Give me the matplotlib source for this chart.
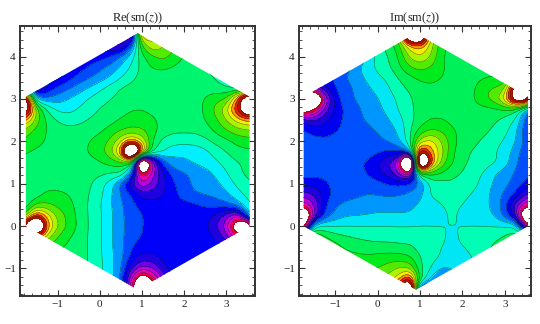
import matplotlib
matplotlib.use('Agg')
import matplotlib.pyplot as plt
import numpy as np
from matplotlib.patches import Polygon

plt.rcParams['font.family'] = 'Liberation Serif'
plt.rcParams['mathtext.fontset'] = 'stix'

x_grid = [-2, -1.75, -1.5, -1.25, -1, -.75, -.5, -.25, 0, .25, .5, .75, 1, 1.25, 1.5, 1.75, 2, 2.25, 2.5, 2.75, 3, 3.25, 3.5, 3.75]
y_grid = [4.75, 4.5, 4.25, 4, 3.75, 3.5, 3.25, 3, 2.75, 2.5, 2.25, 2, 1.75, 1.5, 1.25, 1, .75, .5, .25, 0, -.25, -.5, -.75, -1, -1.25, -1.5, -1.75]

# band number at each grid point, one row per y
re_bands = [
    [-6, -6, -6, -6, -6, -6, -6, -6, -6, -6, -7, -9, 9, 6, 4, 2, 1, 0, -1, -1, -1, -1, -1, -1],
    [-6, -6, -6, -6, -6, -6, -6, -6, -6, -6, -7, -9, 5, 4, 3, 2, 1, 0, -1, -1, -1, -1, -1, -1],
    [-6, -6, -6, -6, -6, -6, -6, -6, -6, -6.5, -7, -4, 1.5, 3.5, 2.6, 1.6, .8, 0, -1, -1, -1, -1, -1, -1],
    [-6, -6, -6, -6, -6, -6, -6, -5.2, -5, -4.5, -3.3, -2, .2, 1.3, 1.9, 1.2, .4, -.2, -1, -1, -1, -1, -1, -1],
    [-6, -6, -6, -6, -6, -5.5, -5, -4.4, -3.8, -3.2, -2.4, -1.3, -.2, .6, .7, .4, .1, 0, -.5, -1, -1.5, -2, -2, -2],
    [-6, -6, -6, -6, -6, -5, -4.2, -3.6, -3.1, -2.4, -1.5, -.8, -.1, 0, 0, 0, 0, 0, -.1, -.6, -1.2, -2, -2.5, -2.5],
    [-5, -7, -7, -5.5, -4.2, -3.6, -3, -2.4, -1.7, -1, -.4, -.1, 0, 0, 0, 0, 0, 0, 0, -.1, -.4, -1, -1.5, -2],
    [10, 10, -3, -3.2, -3, -2.5, -2, -1.4, -.9, -.5, -.2, 0, 0, 0, 0, 0, 0, 0, .6, 1.2, 1.5, 5, 12, 12],
    [10, 10, 2, -.6, -1.7, -1.9, -1.4, -.9, -.4, -.2, .1, .45, .5, .2, 0, 0, 0, 0, .7, 1.8, 3.3, 6.5, 11, 11],
    [4.5, 4.5, 2, .3, -.6, -.9, -.8, -.4, -.2, .1, .6, .9, 1, .7, .2, 0, 0, 0, .5, 1.3, 2.5, 3.8, 4.5, 4.5],
    [2.5, 2, 1.1, .45, 0, -.2, -.1, 0, .3, .9, 1.5, 1.8, 1.6, .9, .1, -.3, -.3, -.3, 0, .7, 1.4, 2, 2.3, 2.3],
    [1.5, 1.2, .8, .4, 0, 0, .1, .5, 1, 1.7, 3.3, 5, 3.5, .5, -.9, -1.1, -1.1, -1.1, -.8, -.2, .2, .8, 1, 1],
    [1, .6, .3, .2, 0, 0, .2, .6, 1.1, 2.2, 5, 18, 6, -.5, -1.4, -2.2, -2.4, -2.2, -1.8, -1.1, -.5, .1, .3, .3],
    [0, 0, 0, 0, 0, 0, 0, .1, .4, .9, 1.2, 1, -20, -8.5, -4, -2.8, -2.6, -2.4, -2.1, -1.7, -1.1, -.6, -.3, -.2],
    [-.3, -.6, -.2, 0, 0, 0, 0, -.1, -.2, -.5, -.4, -3.5, -11, -8, -5.7, -4, -3.6, -3.2, -2.9, -2.3, -1.6, -.7, -.3, -.2],
    [-.2, -.4, -.1, 0, 0, 0, 0, -.3, -1.1, -2, -3.7, -6.5, -8.5, -7.2, -5.8, -4.6, -4, -3.2, -3.1, -2.8, -2.1, -1.3, -.6, -.5],
    [0, -.4, -.1, .8, .8, .5, 0, -.5, -1.2, -2.3, -3.6, -4.5, -6, -6, -5.6, -4.8, -4, -3.6, -3.4, -3.2, -2.7, -1.9, -1.2, -.8],
    [0, -.3, 1.7, 1.6, 1.2, .9, .1, -.6, -1.4, -2.4, -3.3, -4.2, -4.8, -5, -5, -4.9, -4.9, -4.7, -4.4, -4.1, -3.8, -3, -1.8, -1],
    [.5, 1.5, 6, 4, 2.2, 1.2, .2, -.6, -1.3, -2.3, -3.2, -4.2, -4.4, -5, -5, -5, -5, -5, -4.9, -5.8, -7, -8.5, -3, -1],
    [3, 10, 16, 5, 2.6, 1.3, .3, -.6, -1.3, -2.3, -3.2, -4.1, -4.4, -5, -5, -5, -5, -5, -5.2, -6.5, -8, -13, -17, -2],
    [1, 1, 5, 3, 1.5, .6, .1, -.6, -1.3, -2.3, -3.2, -4.2, -4.5, -5, -5, -5, -5, -5, -5, -5.7, -7, -9.5, -8, -5],
    [0, .5, 1.5, 1.3, .7, .3, 0, -.6, -1.3, -2.3, -3.2, -4.4, -5, -5, -5, -5, -5, -5, -5, -5, -5.5, -6, -5, -5],
    [0, 0, 0, 0, 0, 0, 0, -.6, -1.3, -2.2, -3.1, -4.9, -6, -5.8, -5.2, -5, -5, -5, -5, -5, -5, -5, -5, -5],
    [0, 0, 0, 0, 0, 0, 0, -.5, -1.2, -2.2, -3.2, -6.5, -8, -7.6, -5.8, -5, -5, -5, -5, -5, -5, -5, -5, -5],
    [0, 0, 0, 0, 0, 0, 0, -.5, -1.2, -2, -3.5, -8.5, -13, -10, -7.5, -5, -5, -5, -5, -5, -5, -5, -5, -5],
    [0, 0, 0, 0, 0, 0, 0, -.5, -1.2, -2, -4, -9, -18, -13, -8, -5, -5, -5, -5, -5, -5, -5, -5, -5],
    [0, 0, 0, 0, 0, 0, 0, -.5, -1.2, -2, -4, -9, -18, -13, -8, -5, -5, -5, -5, -5, -5, -5, -5, -5],
]

im_bands = [
    [-4, -4, -4, -4, -4, -4, -4, -3, -1, 0, 1, 13, 13, 3, 1, 0, 0, 0, 0, 0, 0, 0, 0, 0],
    [-4, -4, -4, -4, -4, -4, -4, -3, -1, 0, 1.5, 13, 13, 3, 1, .3, 0, 0, 0, 0, 0, 0, 0, 0],
    [-4, -4, -4, -4, -4, -4, -4, -3, -1, 0, 1, 4, 5, 3, .8, .2, 0, 0, 0, 0, 0, 0, 0, 0],
    [-4, -4, -4, -4, -4, -4, -4, -2, -1.3, -.5, .6, 2.7, 3.5, 2.5, .6, .1, 0, 0, 0, 0, 0, 0, 0, 0],
    [-5, -5, -5, -4.5, -4.2, -4, -2.7, -2, -1.2, -.7, .3, 1.4, 1.9, 1.4, .7, .1, 0, 0, 0, 0, 0, 0, 0, 0],
    [-6, -6, -6, -5, -4.2, -3.5, -2.9, -2.3, -1.7, -1.3, -.4, .2, .7, .8, .55, .1, 0, .1, .4, .6, .5, .5, .5, .5],
    [-8, -8, -6.5, -5.6, -4.5, -3.9, -3.3, -2.7, -2.2, -1.6, -.9, -.3, .1, .3, .1, 0, 0, .3, 1.3, 1.6, 2, 10, 12, 8],
    [-18, -18, -18, -8.5, -5, -3.8, -3.4, -2.9, -2.6, -1.9, -1.3, -.7, 0, .1, 0, 0, 0, .4, 1.3, 2, 4, 10, 11, -4],
    [-12, -13, -10, -7, -5.2, -4.3, -3.8, -3.1, -2.8, -2.2, -1.4, -.7, -.2, 0, 0, 0, 0, .1, .1, .2, .45, -.3, -3.5, -4.5],
    [-6, -5.5, -6.5, -5.7, -5, -4.2, -3.8, -3.4, -3, -2.6, -1.9, -.8, -.1, .6, .6, .2, 0, 0, -.1, -.3, -.9, -1.5, -4, -4.5],
    [-4.5, -4.3, -4.9, -4.9, -4.6, -4.2, -4, -3.8, -3.4, -3, -2.3, -.8, .9, 1.6, 1.4, .7, .1, 0, -.2, -.7, -1.2, -2.2, -4.3, -4.5],
    [-4, -4.1, -4.1, -4.3, -4.1, -4, -4, -4, -3.8, -3.4, -2.7, -.8, 3, 4, 2.5, 1, 0, -.2, -.7, -1.2, -1.6, -2.4, -4, -4.3],
    [-4, -4, -4, -4, -4, -4, -4, -4, -4.3, -4.7, -4.5, -3, 8, 5, 3, .7, -.2, -.6, -1, -1.4, -1.9, -3, -4.2, -4.5],
    [-4, -4, -4, -4, -4, -4, -4.4, -4.6, -5.5, -6.5, -8, -26, 18, 6, 2.2, .6, -.3, -.7, -1.1, -1.3, -2, -3.3, -4.3, -4.5],
    [-4, -4, -4.2, -4.2, -4, -4, -4.1, -4.6, -5.2, -6, -7.5, -10, 0, .8, .4, -.3, -.5, -1.2, -1.5, -2.4, -3, -3.6, -4.3, -4.5],
    [-5, -5, -5, -4.7, -4.2, -4, -4, -4, -4.2, -4.6, -4.7, -4.3, -3.5, -1.2, -.9, -.6, -.9, -1.2, -1.8, -2.7, -3.2, -3.9, -4.7, -5],
    [-7, -7, -6.5, -5, -4.2, -3.9, -3.8, -3.5, -3.6, -3.7, -3.6, -3.3, -2.9, -1.3, -1.2, -1.1, -1.2, -1.6, -2, -2.9, -3.7, -4.6, -6.5, -7],
    [-9, -9, -7.5, -4.7, -3.6, -3.3, -3, -2.9, -2.8, -2.8, -2.8, -2.8, -2.3, -1.9, -1.5, -1.1, -1.5, -1.9, -2.1, -2.9, -4, -7, -9, -10],
    [-15, -16, -7.5, -4.2, -3.2, -2.6, -2.6, -2.5, -2.4, -2.4, -2.4, -2.4, -2, -1.9, -2.1, -1.1, -2, -2, -2.1, -2.5, -4, -6, -16, -16],
    [-16, -13, -1.5, -1.5, -1.5, -1.5, -1.5, -1.5, -1.5, -1.5, -1.5, -1.5, -1.5, -1.5, -1.5, -1.5, -1.5, -1.5, -1.5, -1.5, -1.5, -1.5, -8, -15],
    [2, 2, 2, .6, -.1, -.4, -.6, -.8, -.9, -.9, -1, -1, -1, -1.1, -1.1, -2, -1.1, -1, -1, -.9, -.4, .3, 1, 1],
    [2, 2, 2, 1.5, 1, .3, .1, 0, -.1, -.1, -.2, -.3, -.9, -1.1, -1.5, -1.9, -1.6, -1.1, -.9, -.3, .5, 1, 1, 1],
    [2, 2, 2, 2, 1, 1, .8, .7, .9, 1, 1, .7, -.5, -1.1, -1.6, -2, -2, -1.5, -1, 0, 1, 1, 1, 1],
    [2, 2, 2, 2, 2, 2, 2, 1.5, 1.5, 2, 2.7, 2.5, -.3, -1.5, -2.6, -2.5, -2, -1.5, -1, 0, 1, 1, 1, 1],
    [2, 2, 2, 2, 2, 2, 2, 2, 2, 3, 4, 7, 0, -2.7, -4, -3, -2, -1.5, -1, 0, 1, 1, 1, 1],
    [2, 2, 2, 2, 2, 2, 2, 2, 2, 3, 8, 15, -7, -5, -5, -3, -2, -1.5, -1, 0, 1, 1, 1, 1],
    [2, 2, 2, 2, 2, 2, 2, 2, 2, 3, 8, 15, -7, -5, -5, -3, -2, -1.5, -1, 0, 1, 1, 1, 1],
]

# outline of the plotted region
hex_x = [.9, 3.55, 3.55, .9, -1.75, -1.75]
hex_y = [4.55, 3.05, 0, -1.5, 0, 3.05]

# one colour per band, from -10 up to 7
re_colors = ['#e60032', '#f000aa', '#be00dc', '#6e00e6', '#1e00e1', '#0000fa', '#004bff', '#0096ff',
             '#00f0ff', '#00ffb9', '#00f56e', '#00eb28', '#50eb00', '#aaf500', '#f0f000', '#ff9600',
             '#eb2800', '#cc1000']
im_colors = ['#e60032', '#f000aa', '#be00dc', '#6e00e6', '#1e00e1', '#0000f0', '#0050ff', '#0096ff',
             '#00e6f5', '#00ffb4', '#00f05a', '#00eb1e', '#50eb00', '#aaf500', '#f0f000', '#ff9600',
             '#eb2800', '#cc1000']
levels = np.arange(-10.5, 8, 1)


def suavizar(valores):
    # finer mesh and a small blur so the bands come out round, not cut in cells
    z = np.array(valores, dtype=float)
    xf = np.arange(-2, 3.7501, .05)
    yf = np.arange(4.75, -1.7501, -.05)
    z = np.array([np.interp(xf, x_grid, fila) for fila in z])
    z = np.array([np.interp(-yf, -np.array(y_grid), col) for col in z.T]).T
    t = np.arange(-6, 7)
    nucleo = np.exp(-t**2 / (2 * 1.7**2))
    nucleo = nucleo / nucleo.sum()
    z = np.pad(z, 6, mode='edge')
    z = np.apply_along_axis(lambda f: np.convolve(f, nucleo, mode='same'), 0, z)
    z = np.apply_along_axis(lambda f: np.convolve(f, nucleo, mode='same'), 1, z)
    return xf, yf, z[6:-6, 6:-6]


def dibujar_panel(rect, valores, colores, titulo, xlim):
    ax = fig.add_axes(rect)
    xf, yf, z = suavizar(valores)
    forma = Polygon(np.column_stack([hex_x, hex_y]), transform=ax.transData, fill=False, edgecolor='none')
    ax.add_patch(forma)
    relleno = ax.contourf(xf, yf, z, levels=levels, colors=colores)
    lineas = ax.contour(xf, yf, z, levels=levels, colors='#102010', linewidths=.4, alpha=.65, linestyles='solid')
    relleno.set_clip_path(forma)
    lineas.set_clip_path(forma)

    ax.set_xlim(xlim)
    ax.set_ylim(-1.65, 4.72)
    ax.set_xticks([-1, 0, 1, 2, 3])
    ax.set_yticks([-1, 0, 1, 2, 3, 4])
    ax.set_xticklabels(['\u22121', '0', '1', '2', '3'])
    ax.set_yticklabels(['\u22121', '0', '1', '2', '3', '4'])
    ax.set_xticks(np.arange(-1.8, 3.7, .2), minor=True)
    ax.set_yticks(np.arange(-1.6, 4.7, .2), minor=True)
    ax.tick_params(which='major', direction='in', top=True, right=True, length=4, width=.8, color='#333333',
                   labelsize=8, pad=3, labelcolor='#222222')
    ax.tick_params(which='minor', direction='in', top=True, right=True, length=2, width=.6, color='#333333')
    for lado in ax.spines.values():
        lado.set_linewidth(1.4)
        lado.set_color('#333333')
    ax.set_title(titulo, fontsize=9, pad=2, color='#222222')


fig = plt.figure(figsize=(5.4, 3.24), dpi=100)
dibujar_panel([20 / 540, 28 / 324, 235 / 540, 270 / 324], re_bands, re_colors, r'Re(sm($z$))', (-1.89, 3.68))
dibujar_panel([299 / 540, 28 / 324, 232 / 540, 270 / 324], im_bands, im_colors, r'Im(sm($z$))', (-1.86, 3.62))
fig.savefig('out.png', dpi=100)
